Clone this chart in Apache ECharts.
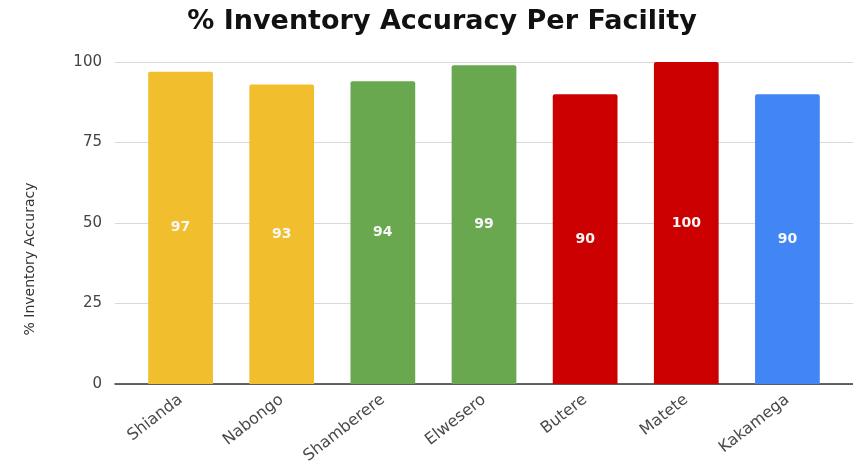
<!DOCTYPE html>
<html>
<head>
<meta charset="utf-8">
<script src="https://cdn.jsdelivr.net/npm/echarts@6/dist/echarts.min.js"></script>
<style>
  html, body { margin: 0; padding: 0; background: #fff; }
  #chart { width: 853px; height: 473px; }
</style>
</head>
<body>
<div id="chart"></div>
<script>
// Facilities and their inventory accuracy (%)
const facilities = ['Shianda', 'Nabongo', 'Shamberere', 'Elwesero', 'Butere', 'Matete', 'Kakamega'];
const accuracy = [97, 93, 94, 99, 90, 100, 90];
const barColors = ['#F1BE2E', '#F1BE2E', '#6AA84F', '#6AA84F', '#CC0000', '#CC0000', '#4285F4'];
const yTicks = [0, 25, 50, 75, 100];

const chart = echarts.init(document.getElementById('chart'), null, { renderer: 'canvas' });

const option = {
  backgroundColor: '#ffffff',
  animation: false,
  title: {
    text: '% Inventory Accuracy Per Facility',
    left: 437,
    top: 3,
    textAlign: 'center',
    textStyle: { fontFamily: 'DejaVu Sans', fontWeight: 'bold', fontSize: 27, color: '#111' }
  },
  grid: [
    // background grid: value scale, gridlines and baseline
    { left: 115, right: 0, top: 62, bottom: 89 },
    // bars
    { left: 130, right: 15, top: 62, bottom: 89 }
  ],
  xAxis: [
    {
      type: 'category', gridIndex: 0, data: facilities,
      axisLine: { show: true, lineStyle: { color: '#333', width: 1.5 } },
      axisTick: { show: false }, axisLabel: { show: false }, splitLine: { show: false }
    },
    {
      type: 'category', gridIndex: 1, data: facilities,
      axisLine: { show: false }, axisTick: { show: false },
      axisLabel: {
        interval: 0, rotate: 38, margin: 14,
        fontFamily: 'DejaVu Sans', fontSize: 16, color: '#4a4a4a'
      }
    }
  ],
  yAxis: [
    {
      type: 'value', gridIndex: 0, min: yTicks[0], max: yTicks[yTicks.length - 1], interval: 25,
      axisLine: { show: false }, axisTick: { show: false },
      axisLabel: { margin: 13, fontFamily: 'DejaVu Sans', fontSize: 15, color: '#444' },
      splitLine: { lineStyle: { color: '#d9d9d9', width: 1 } }
    },
    {
      type: 'value', gridIndex: 1, min: yTicks[0], max: yTicks[yTicks.length - 1], interval: 25,
      show: false, splitLine: { show: false }
    }
  ],
  graphic: [
    {
      type: 'text',
      x: 30, y: 259, rotation: Math.PI / 2,
      style: {
        text: '% Inventory Accuracy',
        fontFamily: 'DejaVu Sans', fontSize: 14, fill: '#333',
        align: 'center', verticalAlign: 'middle'
      }
    }
  ],
  series: [
    {
      type: 'bar',
      xAxisIndex: 1, yAxisIndex: 1,
      barWidth: '64%',
      data: accuracy.map((v, i) => ({ value: v, itemStyle: { color: barColors[i] } })),
      itemStyle: { borderRadius: [2, 2, 0, 0] },
      label: {
        show: true, position: 'inside',
        fontFamily: 'DejaVu Sans', fontWeight: 'bold', fontSize: 14, color: '#f7f7f7'
      }
    }
  ]
};

chart.setOption(option);
</script>
</body>
</html>
